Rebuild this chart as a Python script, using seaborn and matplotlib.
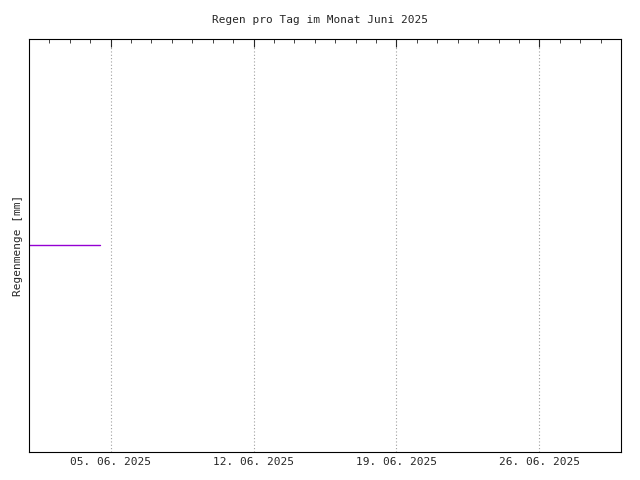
import matplotlib
matplotlib.use("Agg")
import matplotlib.pyplot as plt
import matplotlib.dates as mdates
import seaborn as sns
import pandas as pd

days = ["2025-06-01", "2025-06-02", "2025-06-03", "2025-06-04"]
rain_mm = [0.0, 0.0, 0.0, 0.0]
title = "Regen pro Tag im Monat Juni 2025"
ylabel = "Regenmenge [mm]"

sns.set_style("white")
plt.rcParams['font.family'] = ['DejaVu Sans Mono']

df = pd.DataFrame({"day": pd.to_datetime(days), "rain": rain_mm})
# each daily value spans to the middle of the next day (step display)
df = pd.concat([df, pd.DataFrame({"day": [df["day"].iloc[-1] + pd.Timedelta(hours=12)], "rain": [df["rain"].iloc[-1]]})], ignore_index=True)

fig = plt.figure(figsize=(6.4, 4.8), dpi=100)
ax = fig.add_axes([29/640, 1-452/480, (621-29)/640, (452-39)/480])
sns.lineplot(data=df, x="day", y="rain", ax=ax, color="#9400d3", linewidth=1, drawstyle="steps-post")
ax.set_xlim(pd.Timestamp("2025-06-01"), pd.Timestamp("2025-06-30"))
ax.set_ylim(-1, 1)
ax.xaxis.set_major_locator(mdates.DayLocator(bymonthday=[5, 12, 19, 26]))
ax.xaxis.set_minor_locator(mdates.DayLocator())
ax.xaxis.set_major_formatter(mdates.DateFormatter("%d. %m. %Y"))
ax.tick_params(axis="x", which="both", direction="in", top=True, labelsize=8)
ax.tick_params(axis="x", which="major", length=6)
ax.tick_params(axis="x", which="minor", length=3)
ax.set_yticks([])
ax.grid(axis="x", which="major", linestyle=(0, (1, 2)), color="#a0a0a0", linewidth=0.8)
for s in ax.spines.values():
    s.set_color("black"); s.set_linewidth(0.8)
ax.set_xlabel("")
ax.set_ylabel(ylabel, fontsize=8)
fig.text(0.5, 1-20/480, title, ha="center", va="center", fontsize=8)
fig.savefig("out.png", dpi=100)
